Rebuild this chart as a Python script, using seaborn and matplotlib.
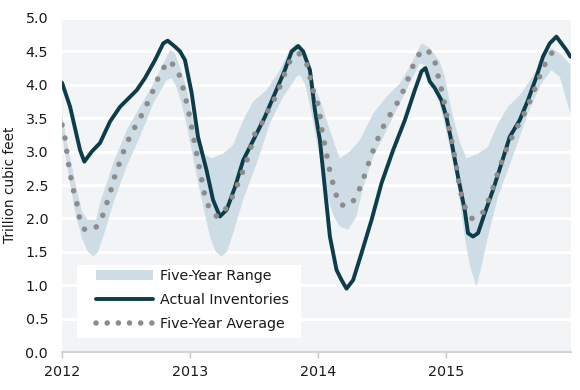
import numpy as np
import matplotlib
matplotlib.use("Agg")
import matplotlib.pyplot as plt
import seaborn as sns
from matplotlib.patches import Patch, Rectangle
from matplotlib.lines import Line2D

# actual working gas in storage (trillion cubic feet)
actual_year = [2012.0, 2012.063, 2012.141, 2012.174, 2012.232, 2012.297, 2012.375, 2012.453, 2012.584,
               2012.648, 2012.727, 2012.791, 2012.826, 2012.883, 2012.922, 2012.961, 2013.013, 2013.063,
               2013.130, 2013.180, 2013.234, 2013.287, 2013.352, 2013.416, 2013.508, 2013.586, 2013.664,
               2013.742, 2013.795, 2013.846, 2013.885, 2013.938, 2013.977, 2014.016, 2014.055, 2014.094,
               2014.146, 2014.185, 2014.224, 2014.276, 2014.341, 2014.420, 2014.498, 2014.588, 2014.680,
               2014.758, 2014.810, 2014.841, 2014.875, 2014.914, 2014.966, 2015.005, 2015.045, 2015.096,
               2015.148, 2015.174, 2015.213, 2015.252, 2015.305, 2015.370, 2015.435, 2015.500, 2015.578,
               2015.643, 2015.709, 2015.760, 2015.813, 2015.865, 2015.904, 2015.943, 2015.975]
actual_tcf = [4.03, 3.67, 3.02, 2.85, 3.00, 3.13, 3.45, 3.67, 3.92,
              4.10, 4.37, 4.62, 4.66, 4.57, 4.50, 4.37, 3.88, 3.22,
              2.72, 2.28, 2.03, 2.13, 2.47, 2.87, 3.22, 3.52, 3.87,
              4.22, 4.50, 4.58, 4.50, 4.22, 3.62, 3.17, 2.45, 1.73,
              1.23, 1.08, 0.95, 1.08, 1.48, 1.98, 2.53, 3.02, 3.47,
              3.92, 4.20, 4.25, 4.05, 3.95, 3.77, 3.52, 3.15, 2.62,
              2.13, 1.78, 1.73, 1.78, 2.08, 2.43, 2.82, 3.22, 3.47,
              3.77, 4.12, 4.42, 4.62, 4.72, 4.62, 4.52, 4.42]

# five-year average
avg_year = [2012.0, 2012.023, 2012.049, 2012.070, 2012.088, 2012.115, 2012.133, 2012.174, 2012.252,
            2012.310, 2012.341, 2012.375, 2012.401, 2012.435, 2012.466, 2012.505, 2012.549, 2012.602,
            2012.648, 2012.695, 2012.732, 2012.773, 2012.830, 2012.896, 2012.930, 2012.955, 2012.982,
            2013.0, 2013.039, 2013.078, 2013.117, 2013.156, 2013.216, 2013.287, 2013.338, 2013.377,
            2013.416, 2013.455, 2013.482, 2013.508, 2013.560, 2013.612, 2013.664, 2013.703, 2013.742,
            2013.781, 2013.852, 2013.912, 2013.9375, 2013.963, 2013.998, 2014.016, 2014.029, 2014.049,
            2014.068, 2014.088, 2014.112, 2014.138, 2014.172, 2014.258, 2014.310, 2014.349, 2014.380,
            2014.414, 2014.451, 2014.490, 2014.537, 2014.594, 2014.646, 2014.685, 2014.724, 2014.758,
            2014.818, 2014.893, 2014.927, 2014.945, 2014.971, 2014.992, 2015.013, 2015.031, 2015.052,
            2015.070, 2015.088, 2015.104, 2015.123, 2015.156, 2015.209, 2015.287, 2015.330, 2015.365,
            2015.396, 2015.430, 2015.466, 2015.508, 2015.557, 2015.604, 2015.648, 2015.688, 2015.727,
            2015.766, 2015.8125, 2015.859]
avg_tcf = [3.40, 3.20, 2.83, 2.60, 2.43, 2.23, 2.03, 1.84, 1.83,
           2.00, 2.18, 2.37, 2.57, 2.75, 2.93, 3.12, 3.30, 3.47,
           3.65, 3.83, 4.02, 4.19, 4.36, 4.26, 4.07, 3.88, 3.67,
           3.50, 3.10, 2.72, 2.33, 2.13, 2.02, 2.16, 2.35, 2.53,
           2.72, 2.92, 3.10, 3.27, 3.42, 3.62, 3.80, 3.97, 4.17,
           4.35, 4.47, 4.32, 4.12, 3.92, 3.73, 3.55, 3.35, 3.15,
           2.96, 2.76, 2.57, 2.38, 2.20, 2.20, 2.37, 2.55, 2.73,
           2.92, 3.11, 3.29, 3.47, 3.64, 3.81, 3.99, 4.18, 4.36,
           4.53, 4.47, 4.27, 4.08, 3.90, 3.70, 3.50, 3.30, 3.11,
           2.92, 2.72, 2.52, 2.34, 2.14, 1.99, 2.08, 2.25, 2.43,
           2.62, 2.81, 3.00, 3.18, 3.36, 3.53, 3.71, 3.90, 4.09,
           4.27, 4.45, 4.52]

# five-year range, upper and lower edge
range_hi_year = [2012.0, 2012.047, 2012.102, 2012.156, 2012.203, 2012.266, 2012.297, 2012.401, 2012.505,
                 2012.609, 2012.688, 2012.766, 2012.844, 2012.883, 2012.930, 2012.974, 2013.016, 2013.0625,
                 2013.117, 2013.170, 2013.260, 2013.338, 2013.416, 2013.495, 2013.599, 2013.703, 2013.781,
                 2013.828, 2013.885, 2013.9375, 2013.977, 2014.016, 2014.055, 2014.094, 2014.133, 2014.172,
                 2014.25, 2014.328, 2014.432, 2014.537, 2014.641, 2014.719, 2014.810, 2014.875, 2014.953,
                 2014.992, 2015.031, 2015.070, 2015.109, 2015.162, 2015.252, 2015.330, 2015.409, 2015.487,
                 2015.591, 2015.695, 2015.773, 2015.826, 2015.891, 2015.975]
range_hi = [3.55, 3.05, 2.55, 2.10, 1.98, 1.98, 2.23, 2.83, 3.32,
            3.67, 3.92, 4.22, 4.52, 4.47, 4.22, 3.95, 3.55, 3.15,
            2.95, 2.90, 2.97, 3.10, 3.47, 3.75, 3.92, 4.22, 4.52,
            4.62, 4.52, 4.30, 3.95, 3.78, 3.55, 3.32, 3.10, 2.90,
            3.00, 3.17, 3.57, 3.82, 4.02, 4.27, 4.62, 4.55, 4.35,
            4.12, 3.75, 3.42, 3.15, 2.90, 2.97, 3.07, 3.42, 3.67,
            3.87, 4.17, 4.42, 4.55, 4.47, 4.30]
range_lo_year = [2012.0, 2012.047, 2012.102, 2012.156, 2012.203, 2012.245, 2012.281, 2012.323, 2012.401,
                 2012.505, 2012.609, 2012.713, 2012.818, 2012.859, 2012.898, 2012.930, 2012.969, 2013.016,
                 2013.055, 2013.104, 2013.156, 2013.203, 2013.248, 2013.289, 2013.338, 2013.416, 2013.521,
                 2013.625, 2013.729, 2013.834, 2013.859, 2013.898, 2013.9375, 2013.977, 2014.016, 2014.055,
                 2014.094, 2014.133, 2014.172, 2014.237, 2014.302, 2014.354, 2014.432, 2014.537, 2014.641,
                 2014.745, 2014.797, 2014.836, 2014.875, 2014.922, 2014.961, 2015.0, 2015.039, 2015.096,
                 2015.148, 2015.188, 2015.240, 2015.281, 2015.330, 2015.409, 2015.513, 2015.643, 2015.748,
                 2015.826, 2015.891, 2015.975]
range_lo = [3.25, 2.70, 2.10, 1.70, 1.50, 1.43, 1.50, 1.73, 2.23,
            2.78, 3.22, 3.72, 4.07, 4.10, 3.95, 3.75, 3.45, 3.00,
            2.60, 2.18, 1.73, 1.50, 1.43, 1.50, 1.78, 2.28, 2.82,
            3.42, 3.82, 4.12, 4.15, 4.02, 3.70, 3.30, 2.90, 2.50,
            2.20, 2.00, 1.88, 1.83, 2.03, 2.47, 2.92, 3.32, 3.72,
            4.12, 4.32, 4.30, 4.15, 3.92, 3.65, 3.35, 3.00, 2.47,
            1.73, 1.30, 0.98, 1.30, 1.73, 2.33, 2.87, 3.57, 4.02,
            4.22, 4.12, 3.57]

year_ticks = [2012, 2013, 2014, 2015]
y_ticks = [0.0, 0.5, 1.0, 1.5, 2.0, 2.5, 3.0, 3.5, 4.0, 4.5, 5.0]

band_color = '#cddce5'
line_color = '#0d3d4a'
dot_color = '#8c8c8c'

sns.set_theme(style='white')
plt.rcParams['font.family'] = ['DejaVu Sans']

fig = plt.figure(figsize=(5.8, 3.9), dpi=100)
ax = fig.add_axes([0.107, 0.097, 0.877, 0.857])
ax.set_facecolor('#f3f4f6')

# band first, then actual line, dots on top
ax.fill(np.concatenate([range_hi_year, range_lo_year[::-1]]),
        np.concatenate([range_hi, range_lo[::-1]]),
        color=band_color, linewidth=0, zorder=2)

sns.lineplot(x=actual_year, y=actual_tcf, ax=ax, color=line_color, linewidth=2.8,
             solid_joinstyle='round', solid_capstyle='round', sort=False, zorder=3)
sns.lineplot(x=avg_year, y=avg_tcf, ax=ax, color=dot_color, linewidth=4.0,
             linestyle=(0, (0.01, 2.4)), dash_capstyle='round', sort=False, zorder=4)

ax.set_xlim(2012, 2015.977)
ax.set_ylim(0, 5)
ax.set_yticks(y_ticks)
ax.set_yticklabels(['{:.1f}'.format(v) for v in y_ticks])
ax.set_xticks(year_ticks)
ax.set_xticklabels([str(y) for y in year_ticks])

ax.yaxis.grid(True, color='white', linewidth=2.2)
ax.xaxis.grid(False)
ax.set_axisbelow(True)

for side in ['top', 'right', 'left']:
    ax.spines[side].set_visible(False)
ax.spines['bottom'].set_color('#d4d4d4')
ax.spines['bottom'].set_linewidth(1.5)

ax.tick_params(axis='y', length=0, pad=10, labelsize=10.3, labelcolor='#1a1a1a')
ax.tick_params(axis='x', bottom=True, direction='out', length=4, width=1, color='#c8c8c8',
               pad=5, labelsize=10.3, labelcolor='#1a1a1a')

ax.set_xlabel('')
ax.set_ylabel('Trillion cubic feet', fontsize=9.8, color='#1a1a1a', labelpad=6)

# white legend box
ax.add_patch(Rectangle((0.0295, 0.042), 0.44, 0.2186, transform=ax.transAxes,
                       facecolor='white', edgecolor='none', zorder=5))

handles = [Patch(facecolor=band_color, edgecolor='none'),
           Line2D([], [], color=line_color, linewidth=2.8, solid_capstyle='round'),
           Line2D([], [], color=dot_color, linewidth=4.0, linestyle=(0, (0.01, 2.0)),
                  dash_capstyle='round')]
labels = ['Five-Year Range', 'Actual Inventories', 'Five-Year Average']
leg = ax.legend(handles, labels, loc='upper left', bbox_to_anchor=(0.066, 0.248),
                borderaxespad=0, borderpad=0, frameon=False, fontsize=10.3,
                handlelength=4.0, handletextpad=0.5, labelspacing=0.7)
for t in leg.get_texts():
    t.set_color('#1a1a1a')
leg.set_zorder(6)

fig.savefig('out.png', dpi=100)
